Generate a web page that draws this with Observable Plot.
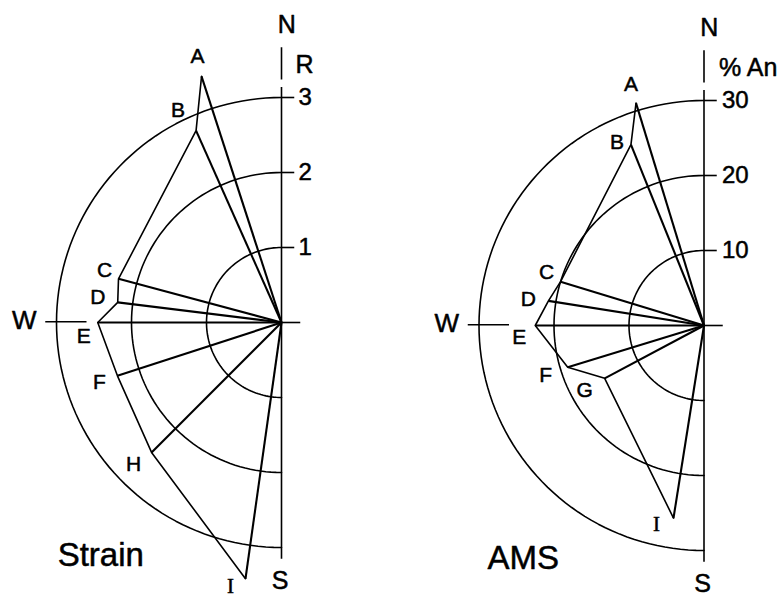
<!DOCTYPE html>
<html><head><meta charset="utf-8">
<script src="https://cdn.jsdelivr.net/npm/d3@7"></script>
<script src="https://cdn.jsdelivr.net/npm/@observablehq/plot@0.6"></script>
<style>
html,body{margin:0;padding:0;background:#fff;}
#wrap{display:flex;width:783px;height:597px;overflow:hidden;}
</style></head><body><div id="wrap"></div>
<script>
// ---- Data ----
// Strain panel: azimuth (degrees clockwise from N) and strain ratio R
const strainLabels  = ["A","B","C","D","E","F","H","I"];
const strainAzimuth = [342, 336, 285, 277, 270, 252, 225, 188];
const strainR       = [3.45, 2.8, 2.25, 2.2, 2.45, 2.3, 2.45, 3.45];
const strainRings   = [1, 2, 3];

// AMS panel: azimuth and % An
const amsLabels  = ["A","B","C","D","E","F","G","I"];
const amsAzimuth = [343, 338, 287, 279, 270, 253, 242, 189];
const amsAn      = [31, 26, 20, 21, 22.5, 19, 15, 26];
const amsRings   = [10, 20, 30];

// ---- Layout (label nudges in px) ----
const strainNudge = {A:[-4,-20],B:[-18,-20],C:[-14,-9],D:[-20,-5],E:[-14,14],F:[-18,6],H:[-18,12],I:[-15,8]};
const amsNudge    = {A:[-5,-19],B:[-14,-2],C:[-14,-9],D:[-20,-2],E:[-16,12],F:[-22,8],G:[-20,12],I:[-17,6]};

const FONT = "Liberation Sans, Arial, sans-serif";
const TXT = {fill: "black", stroke: "black", strokeWidth: 0.5};

function polar(az, r) {
  const a = az * Math.PI / 180;
  return [r * Math.sin(a), r * Math.cos(a)];
}

function panel(cfg) {
  const {labels, azimuth, radius, rings, unitPx, cx, cy, width, height,
         title, radiusTitle, nudge, tickDx} = cfg;
  const outer = d3.max(rings);
  const u = outer / 3;
  const pts = labels.map((l, i) => {
    const [x, y] = polar(azimuth[i], radius[i]);
    return {label: l, x, y};
  });
  const ringPts = rings.flatMap(v => d3.range(0, 181, 2).map(t => {
    const [x, y] = polar(360 - t, v);
    return {ring: v, x, y};
  }));
  const labelMarks = pts.map(p => Plot.text([p], {
    x: "x", y: "y", text: "label",
    dx: nudge[p.label][0], dy: nudge[p.label][1],
    fontSize: 21,
    fontFamily: p.label === "I" ? "Liberation Serif, serif" : FONT,
    ...TXT
  }));
  return Plot.plot({
    width, height,
    margin: 0,
    x: {domain: [-cx / unitPx, (width - cx) / unitPx], axis: null},
    y: {domain: [-(height - cy) / unitPx, cy / unitPx], axis: null},
    style: {fontFamily: FONT, background: "white", overflow: "visible"},
    marks: [
      // rings (left half-circles)
      Plot.line(ringPts, {x: "x", y: "y", z: "ring", stroke: "black", strokeWidth: 1.6}),
      // ring ticks to the right of the N axis
      Plot.link(rings, {x1: 0, y1: d => d, x2: 0.17 * u, y2: d => d, stroke: "black", strokeWidth: 1.6}),
      // N–S axis
      Plot.link([0], {x1: 0, y1: -3.15 * u, x2: 0, y2: 3.14 * u, stroke: "black", strokeWidth: 1.6}),
      Plot.link([0], {x1: 0, y1: 3.24 * u, x2: 0, y2: 3.67 * u, stroke: "black", strokeWidth: 1.6}),
      // short east stub
      Plot.link([0], {x1: 0, y1: 0, x2: 0.25 * u, y2: 0, stroke: "black", strokeWidth: 1.6}),
      // W tick
      Plot.link([0], {x1: -3.15 * u, y1: 0.01 * u, x2: -2.6 * u, y2: 0.01 * u, stroke: "black", strokeWidth: 1.6}),
      // radial lines
      Plot.link(pts, {x1: 0, y1: 0, x2: "x", y2: "y", stroke: "black", strokeWidth: 2.1}),
      // connecting outline
      Plot.line(pts, {x: "x", y: "y", stroke: "black", strokeWidth: 1.6}),
      // ring labels
      Plot.text(rings, {x: 0, y: d => d, text: d => String(d), dx: tickDx, textAnchor: "start", fontSize: 24, ...TXT}),
      // compass & axis titles
      Plot.text(["N"], {x: 0.07 * u, y: 3.97 * u, text: d => d, fontSize: 25, ...TXT}),
      Plot.text(["S"], {x: -0.02 * u, y: -3.45 * u, text: d => d, fontSize: 25, ...TXT}),
      Plot.text(["W"], {x: -3.43 * u, y: 0.03 * u, text: d => d, fontSize: 26, ...TXT}),
      Plot.text([radiusTitle], {x: 0, y: 3.43 * u, text: d => d, dx: tickDx - 3, textAnchor: "start", fontSize: 25, ...TXT}),
      Plot.text([title], {x: -2.41 * u, y: -3.11 * u, text: d => d, fontSize: 33, letterSpacing: cfg.titleSpacing, ...TXT}),
      ...labelMarks
    ]
  });
}

const wrap = document.getElementById("wrap");
wrap.append(panel({
  labels: strainLabels, azimuth: strainAzimuth, radius: strainR, rings: strainRings,
  unitPx: 75, cx: 281, cy: 322, width: 391, height: 597,
  title: "Strain", radiusTitle: "R", nudge: strainNudge, tickDx: 17, titleSpacing: 0
}));
wrap.append(panel({
  labels: amsLabels, azimuth: amsAzimuth, radius: amsAn, rings: amsRings,
  unitPx: 7.5, cx: 312.5, cy: 325, width: 392, height: 597,
  title: "AMS", radiusTitle: "% An", nudge: amsNudge, tickDx: 18, titleSpacing: 2
}));
</script>
</body></html>
